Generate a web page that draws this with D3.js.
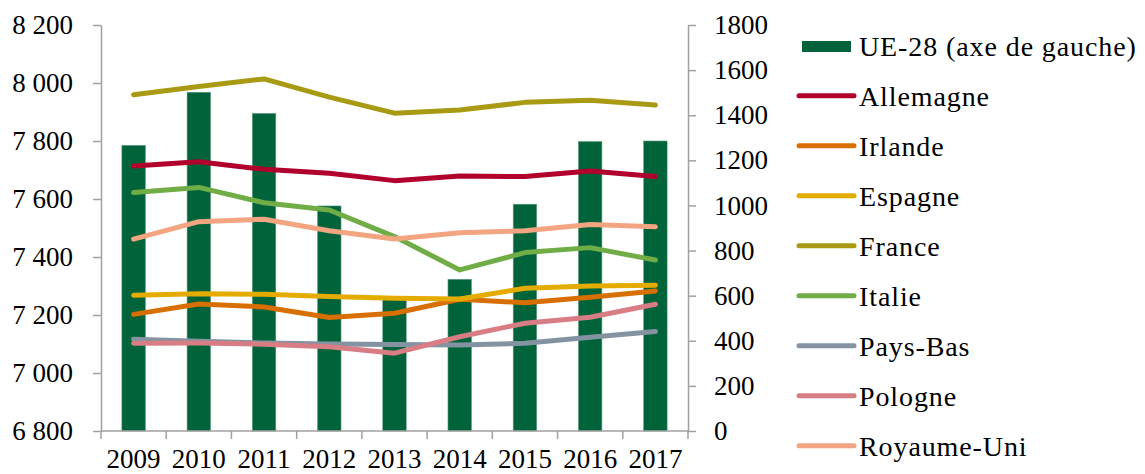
<!DOCTYPE html>
<html><head><meta charset="utf-8">
<script src="https://cdn.jsdelivr.net/npm/d3@7/dist/d3.min.js"></script>
<style>
html,body{margin:0;padding:0;background:#fff;}
svg{display:block;font-family:"Liberation Serif","Times New Roman",serif;}
</style></head>
<body>
<svg id="c" width="1145" height="474"></svg>
<script>
const years = ["2009","2010","2011","2012","2013","2014","2015","2016","2017"];
const ue28 = [7785,7968,7895,7576,7263,7323,7582,7798,7800];
const allemagne = [1175,1194,1160,1143,1110,1131,1128,1153,1128];
const irlande = [517,563,550,503,522,584,569,593,621];
const espagne = [602,609,606,596,588,585,633,643,646];
const france = [1491,1527,1561,1480,1409,1423,1457,1466,1445];
const italie = [1057,1080,1012,980,862,714,791,813,758];
const paysBas = [407,398,390,386,383,381,389,416,441];
const pologne = [389,390,385,374,345,418,478,504,562];
const royaumeUni = [851,928,939,888,851,879,888,916,906];
const leftTicks = [6800,7000,7200,7400,7600,7800,8000,8200];
const rightTicks = [0,200,400,600,800,1000,1200,1400,1600,1800];

const series = [
  {name:"Allemagne", values:allemagne, color:"#b0002b"},
  {name:"Irlande", values:irlande, color:"#d86f02"},
  {name:"Espagne", values:espagne, color:"#e4ac00"},
  {name:"France", values:france, color:"#a89a12"},
  {name:"Italie", values:italie, color:"#71ad47"},
  {name:"Pays-Bas", values:paysBas, color:"#8393a2"},
  {name:"Pologne", values:pologne, color:"#d97d85"},
  {name:"Royaume-Uni", values:royaumeUni, color:"#f2a580"}
];

const svg = d3.select("#c");
const L = 101, R = 688, T = 25, B = 431;
const axisColor = "#a0a0a0";
const x = d3.scaleBand().domain(years).range([L,R]).paddingInner(0.64).paddingOuter(0.32);
const yL = d3.scaleLinear().domain([6800,8200]).range([B,T]);
const yR = d3.scaleLinear().domain([0,1800]).range([B,T]);
const cx = d => x(d) + x.bandwidth()/2;
const fmt = v => d3.format(",")(v).replace(/,/g," ");

// bars
svg.append("g").selectAll("rect").data(years).join("rect")
  .attr("x", d => x(d)).attr("width", x.bandwidth())
  .attr("y", (d,i) => yL(ue28[i])).attr("height", (d,i) => B - yL(ue28[i]))
  .attr("fill","#00633a").attr("stroke","#5f9c80").attr("stroke-width",0.6);

// lines
const line = d3.line().x((v,i) => cx(years[i])).y(v => yR(v));
svg.append("g").selectAll("path").data(series).join("path")
  .attr("d", s => line(s.values)).attr("fill","none")
  .attr("stroke", s => s.color).attr("stroke-width",5)
  .attr("stroke-linejoin","round").attr("stroke-linecap","round");

// axes
function styleAxis(g){
  g.select(".domain").attr("stroke",axisColor).attr("stroke-width",1.5);
  g.selectAll(".tick line").attr("stroke",axisColor).attr("stroke-width",1.5);
  g.selectAll("text").attr("fill","#000").style("font-size","27px")
   .style("font-family",'"Liberation Serif","Times New Roman",serif');
}
const gl = svg.append("g").attr("transform",`translate(${L},0)`)
  .call(d3.axisLeft(yL).tickValues(leftTicks).tickSize(8).tickSizeOuter(0).tickPadding(20).tickFormat(fmt));
styleAxis(gl);
const gr = svg.append("g").attr("transform",`translate(${R},0)`)
  .call(d3.axisRight(yR).tickValues(rightTicks).tickSize(8).tickSizeOuter(0).tickPadding(18).tickFormat(d3.format("d")));
styleAxis(gr);
const gx = svg.append("g").attr("transform",`translate(0,${B})`)
  .call(d3.axisBottom(x).tickSize(0).tickPadding(18));
styleAxis(gx);
gx.select(".domain").attr("d",`M${L},0H${R}`);
const bounds = years.map(d => x(d) - x.step()*x.paddingInner()/2).concat([R]);
bounds[0] = L;
gx.selectAll("line.bt").data(bounds).join("line").attr("class","bt")
  .attr("x1",d=>d).attr("x2",d=>d).attr("y1",0).attr("y2",8)
  .attr("stroke",axisColor).attr("stroke-width",1.5);

// legend
const lg = svg.append("g");
lg.append("rect").attr("x",802).attr("y",41).attr("width",49).attr("height",11).attr("fill","#00633a");
lg.append("text").attr("x",859).attr("y",56).text("UE-28 (axe de gauche)")
  .style("font-size","28px").style("letter-spacing","0.9px");
series.forEach((s,i) => {
  const yy = 95.7 + i*50;
  lg.append("line").attr("x1",799).attr("x2",854).attr("y1",yy).attr("y2",yy)
    .attr("stroke",s.color).attr("stroke-width",5).attr("stroke-linecap","round");
  lg.append("text").attr("x",859).attr("y",yy+10).text(s.name)
    .style("font-size","28px").style("letter-spacing","0.9px");
});
</script>
</body></html>
